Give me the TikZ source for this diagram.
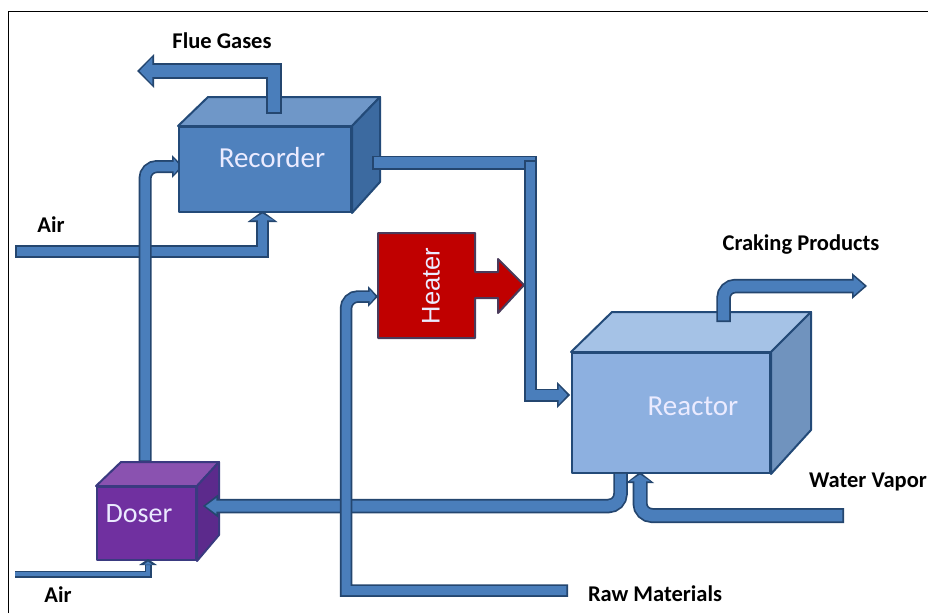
\documentclass[tikz,border=0pt]{standalone}
\usepackage{fontspec}
\setmainfont{Carlito}
\newfontfamily\arialfont{Liberation Sans}
\definecolor{pipefill}{HTML}{4A7EBB}
\definecolor{pipeline}{HTML}{24466F}
\definecolor{recF}{HTML}{4F81BD}
\definecolor{recT}{HTML}{6F97C8}
\definecolor{recS}{HTML}{3C6AA0}
\definecolor{recL}{HTML}{234A78}
\definecolor{reaF}{HTML}{8DB0E0}
\definecolor{reaT}{HTML}{A5C2E6}
\definecolor{reaS}{HTML}{7093BE}
\definecolor{dosF}{HTML}{7030A0}
\definecolor{dosT}{HTML}{8A52B0}
\definecolor{dosS}{HTML}{5C2A8C}
\definecolor{dosL}{HTML}{3A3A80}
\definecolor{heatF}{HTML}{C00000}
\definecolor{heatL}{HTML}{4A3A5A}
\def\pipew{13}
\tikzset{
  x=1pt,y=-1pt,
  boxface/.style={draw,line width=2pt,line join=round,inner sep=0pt,minimum width=#1},
  cubeside/.style={line width=2pt,line join=round},
  blabel/.style={font=\bfseries\fontsize{22.5}{24}\selectfont,text=black,inner sep=0pt},
  wlabel/.style={font=\fontsize{#1}{#1}\selectfont,text=white!92!blue,inner sep=0pt},
  pipeO/.style={draw=pipeline,line width=\pipew pt,line join=miter},
  pipeI/.style={draw=pipefill,line width={(\pipew-3.5)*1pt},line join=miter,shorten <=1.75pt,shorten >=-3pt},
  pipeE/.style={draw=pipefill,line width={(\pipew-3.5)*1pt},line join=miter,shorten <=1.75pt,shorten >=1.75pt},
}
% plain pipe with no head
\newcommand{\plainpipe}[1]{%
  \draw[pipeO] #1;
  \draw[pipeE] #1;
}
% path, tip, direction angle, half-width, length
\newcommand{\arrowpipe}[5]{%
  \draw[pipeO] #1;
  \begin{scope}[shift={(#2)},rotate=#3]
    \fill[pipeline] (0,0) -- (-#5,#4) -- (-#5,-#4) -- cycle;
  \end{scope}
  \draw[pipeI] #1;
  \begin{scope}[shift={(#2)},rotate=#3]
    \fill[pipefill] (-2.6,0) -- (-#5+1.7,#4-3.6) -- (-#5+1.7,-#4+3.6) -- cycle;
  \end{scope}
}
\begin{document}
\begin{tikzpicture}
\useasboundingbox (0,0) rectangle (928,613);
\fill[white] (0,0) rectangle (928,613);
\draw[black,line width=1pt] (8,613) -- (8,11) -- (928,11);

% ---- named points
\coordinate (flueStart) at (274,114);
\coordinate (flueCorner) at (274,71);
\coordinate (flueBase) at (154,71);
\coordinate (flueTip) at (137,71);
\coordinate (air1Start) at (15,251.5);
\coordinate (air1Corner) at (262.5,251.5);
\coordinate (air1Base) at (262.5,222);
\coordinate (air1Tip) at (262.5,211);
\coordinate (air2Start) at (15,574);
\coordinate (air2Corner) at (148,574);
\coordinate (air2Base) at (148,564);
\coordinate (air2Tip) at (148,559);
\coordinate (recInStart) at (145,462);
\coordinate (recInCorner) at (145,166.5);
\coordinate (recInBase) at (172,166.5);
\coordinate (recInTip) at (183,166.5);
\coordinate (recOutStart) at (372,162.5);
\coordinate (recOutEnd) at (537,162.5);
\coordinate (recOutDrop) at (530.5,160);
\coordinate (recOutC2) at (530.5,395);
\coordinate (reaInBase) at (557,395);
\coordinate (reaInTip) at (570,395);
\coordinate (rawStart) at (568,590.5);
\coordinate (rawC1) at (346,590.5);
\coordinate (rawC2) at (346,296.5);
\coordinate (heatInBase) at (368,296.5);
\coordinate (heatInTip) at (378,296.5);
\coordinate (crackStart) at (723.5,322);
\coordinate (crackCorner) at (723.5,286);
\coordinate (crackBase) at (852,286);
\coordinate (crackTip) at (867,286);
\coordinate (waterStart) at (844,515.5);
\coordinate (waterCorner) at (640,515.5);
\coordinate (waterBase) at (640,483);
\coordinate (waterTip) at (640,472);
\coordinate (outStart) at (620.5,472);
\coordinate (outCorner) at (620.5,506);
\coordinate (dosInBase) at (218,506);
\coordinate (dosInTip) at (203,506);

% ---- connectors behind the boxes
\arrowpipe{(air1Start) -- (air1Corner) -- (air1Base)}{air1Tip}{90}{15}{11}
\arrowpipe{(recInStart) [rounded corners=12pt] -- (recInCorner) -- (recInBase)}{recInTip}{0}{11.5}{11}

% ---- Recorder
\node[boxface=172pt,minimum height=85pt,draw=recL,fill=recF,anchor=north west] (recorder) at (178,126) {};
\filldraw[cubeside,fill=recT,draw=recL] (recorder.north west) -- (208,97) -- (380,97) -- (recorder.north east) -- cycle;
\filldraw[cubeside,fill=recS,draw=recL] (recorder.north east) -- (380,97) -- (380,182) -- (recorder.south east) -- cycle;
\node[wlabel=29] (recorderlabel) at (272,158) {Recorder};

% ---- Reactor
\node[boxface=198pt,minimum height=120pt,draw=recL,fill=reaF,anchor=north west] (reactor) at (571,352) {};
\filldraw[cubeside,fill=reaT,draw=recL] (reactor.north west) -- (612,312) -- (811,312) -- (reactor.north east) -- cycle;
\filldraw[cubeside,fill=reaS,draw=recL] (reactor.north east) -- (811,312) -- (811,430) -- (reactor.south east) -- cycle;
\node[wlabel=29] (reactorlabel) at (693,406) {Reactor};

% ---- Doser
\node[boxface=99pt,minimum height=73pt,draw=dosL,fill=dosF,anchor=north west] (doser) at (96,486) {};
\filldraw[cubeside,fill=dosT,draw=dosL] (doser.north west) -- (121,462) -- (219,462) -- (doser.north east) -- cycle;
\filldraw[cubeside,fill=dosS,draw=dosL] (doser.north east) -- (219,462) -- (219,535) -- (doser.south east) -- cycle;
\node[wlabel=28] (doserlabel) at (139,514) {Doser};

% ---- Heater
\filldraw[cubeside,fill=heatF,draw=heatL]
  (378,233) -- (475,233) -- (475,272) -- (498,272) -- (498,259) -- (524,285) -- (498,313) -- (498,298) -- (475,298) -- (475,338) -- (378,338) -- cycle;
\node[wlabel=25,font=\arialfont\fontsize{25.5}{26}\selectfont,rotate=90] (heaterlabel) at (431,286) {Heater};

% ---- connectors in front
\def\pipew{16}
\arrowpipe{(flueStart) -- (flueCorner) -- (flueBase)}{flueTip}{180}{17}{17}
\def\pipew{14}
\plainpipe{(recOutStart) -- (recOutEnd)}
\def\pipew{13}
\arrowpipe{(recOutDrop) -- (recOutC2) -- (reaInBase)}{reaInTip}{0}{13}{13}
\def\pipew{14.5}
\arrowpipe{(outStart) [rounded corners=12pt] -- (outCorner) -- (dosInBase)}{dosInTip}{180}{11.5}{15}
\def\pipew{12.5}
\arrowpipe{(rawStart) -- (rawC1) [rounded corners=12pt] -- (rawC2) -- (heatInBase)}{heatInTip}{0}{10.5}{10}
\def\pipew{14.5}
\arrowpipe{(crackStart) [rounded corners=12pt] -- (crackCorner) -- (crackBase)}{crackTip}{0}{13}{15}
\def\pipew{15}
\arrowpipe{(waterStart) [rounded corners=12pt] -- (waterCorner) -- (waterBase)}{waterTip}{90}{14}{11}

\draw[pipeline,line width=7pt] (air2Start) -- (air2Corner) -- (air2Base);
\draw[pipefill,line width=3.5pt] (air2Start) -- (air2Corner) -- (air2Base);
\fill[pipeline] (air2Tip) -- (157,565) -- (139,565) -- cycle;
\fill[pipefill] (148,561.5) -- (152,564.5) -- (144,564.5) -- cycle;

% ---- labels
\node[blabel] (flue) at (222,41) {Flue Gases};
\node[blabel] (air1) at (51,225) {Air};
\node[blabel] (air2) at (58,595) {Air};
\node[blabel] (raw) at (655,594) {Raw Materials};
\node[blabel] (water) at (868,482) {Water Vapor};
\node[blabel] (crack) at (801,245) {Craking Products};
\end{tikzpicture}
\end{document}
